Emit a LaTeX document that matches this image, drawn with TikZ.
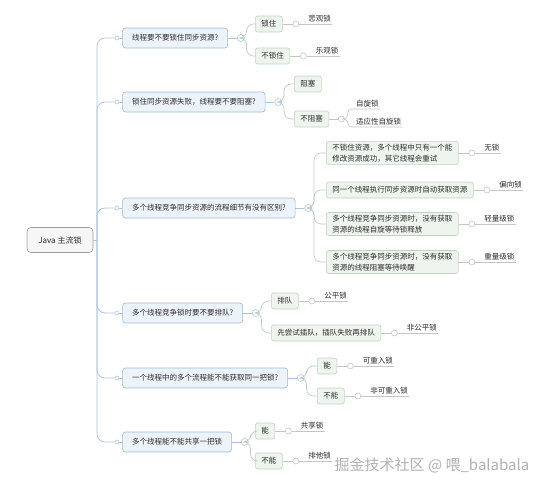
\documentclass[tikz,border=0pt]{standalone}
\usepackage{fontspec}
\newfontfamily\cjkfont{Noto Sans CJK SC}
\usetikzlibrary{positioning}
\definecolor{topicfill}{RGB}{237,243,251}
\definecolor{topicdraw}{RGB}{163,184,212}
\definecolor{subfill}{RGB}{238,245,238}
\definecolor{subdraw}{RGB}{194,210,194}
\definecolor{rootfill}{RGB}{246,246,246}
\definecolor{rootdraw}{RGB}{158,158,158}
\definecolor{trunkline}{RGB}{176,197,223}
\definecolor{subline}{RGB}{190,206,196}
\definecolor{leafline}{RGB}{198,198,198}
\definecolor{inktext}{RGB}{45,45,45}

\tikzset{
  rootbox/.style={draw=rootdraw, fill=rootfill, rounded corners=4pt, line width=0.6pt,
    minimum width=66pt, minimum height=25pt, font=\cjkfont\fontsize{8}{10}\selectfont},
  topicbox/.style={draw=topicdraw, fill=topicfill, rounded corners=3pt, line width=0.6pt,
    minimum height=20pt, inner xsep=9.5pt, inner ysep=0pt},
  subbox/.style={draw=subdraw, fill=subfill, rounded corners=2.5pt, line width=0.6pt,
    minimum height=16pt, inner xsep=6pt, inner ysep=2.5pt, align=left},
  leaf/.style={anchor=south west, inner xsep=1pt, inner ysep=1.2pt},
  knob/.style={circle, draw=#1, fill=white, line width=0.6pt, inner sep=0pt},
  knob/.default=leafline,
  trunk/.style={draw=trunkline, line width=0.8pt, rounded corners=8pt},
  twig/.style={draw=subline, line width=0.7pt, rounded corners=7pt},
  leafrule/.style={draw=leafline, line width=0.6pt},
}

\begin{document}
\begin{tikzpicture}[x=1pt, y=-1pt, text=inktext, font=\cjkfont\fontsize{7.5}{11}\selectfont]
\useasboundingbox[fill=white] (0,0) rectangle (554,487);

% root
\node[rootbox] (root) at (60,240) {Java 主流锁};
\coordinate (hub) at (97,240);

% first level
\node[knob=trunkline, minimum size=4pt] (p1) at (117,38) {};
\node[knob=trunkline, minimum size=4pt] (p2) at (117,102) {};
\node[knob=trunkline, minimum size=4pt] (p3) at (117,208) {};
\node[knob=trunkline, minimum size=4pt] (p4) at (117,313) {};
\node[knob=trunkline, minimum size=4pt] (p5) at (117,378) {};
\node[knob=trunkline, minimum size=4pt] (p6) at (117,442) {};

\node[topicbox, right=3pt of p1] (t1) {线程要不要锁住同步资源?};
\node[topicbox, right=3pt of p2] (t2) {锁住同步资源失败，线程要不要阻塞?};
\node[topicbox, right=3pt of p3] (t3) {多个线程竞争同步资源的流程细节有没有区别?};
\node[topicbox, right=3pt of p4] (t4) {多个线程竞争锁时要不要排队?};
\node[topicbox, right=3pt of p5] (t5) {一个线程中的多个流程能不能获取同一把锁?};
\node[topicbox, right=3pt of p6] (t6) {多个线程能不能共享一把锁};

\draw[trunkline, line width=0.8pt] (root.east) -- (hub);
\foreach \i in {1,...,6} {
  \draw[trunk] (hub) |- (p\i.west);
  \draw[trunkline, line width=0.6pt] (p\i.east) -- (t\i.west);
  \node[knob=trunkline, minimum size=7pt, right=9pt of t\i] (k\i) {};
  \draw[trunkline, line width=0.6pt] (t\i.east) -- (k\i.west);
}

% second level
\node[subbox, anchor=west] (s11) at (255,24) {锁住};
\node[subbox, anchor=west] (s12) at (255,56) {不锁住};
\node[subbox, anchor=west] (s21) at (294,84) {阻塞};
\node[subbox, anchor=west] (s22) at (294,119) {不阻塞};
\node[subbox, anchor=west] (s31) at (326,153) {不锁住资源，多个线程中只有一个能\\修改资源成功，其它线程会重试};
\node[subbox, anchor=west] (s32) at (326,190) {同一个线程执行同步资源时自动获取资源};
\node[subbox, anchor=west] (s33) at (326,224) {多个线程竞争同步资源时，没有获取\\资源的线程自旋等待锁释放};
\node[subbox, anchor=west] (s34) at (326,262) {多个线程竞争同步资源时，没有获取\\资源的线程阻塞等待唤醒};
\node[subbox, anchor=west] (s41) at (271,301) {排队};
\node[subbox, anchor=west] (s42) at (271,333) {先尝试插队，插队失败再排队};
\node[subbox, anchor=west] (s51) at (317,366) {能};
\node[subbox, anchor=west] (s52) at (317,396) {不能};
\node[subbox, anchor=west] (s61) at (255,431) {能};
\node[subbox, anchor=west] (s62) at (255,461) {不能};

\foreach \i/\j in {1/1,1/2,2/1,2/2,3/1,3/2,3/3,3/4,4/1,4/2,5/1,5/2,6/1,6/2}
  \draw[twig] (k\i.east) -- ++(2,0) |- (s\i\j.west);

% leaves
\foreach \i/\j/\word in {1/1/悲观锁, 1/2/乐观锁, 3/1/无锁, 3/2/偏向锁, 3/3/轻量级锁,
    3/4/重量级锁, 4/1/公平锁, 4/2/非公平锁, 5/1/可重入锁, 5/2/非可重入锁,
    6/1/共享锁, 6/2/排他锁} {
  \node[knob, minimum size=6pt, right=10pt of s\i\j] (q\i\j) {};
  \node[leaf] (l\i\j) at ([xshift=8pt]q\i\j.east) {\word};
  \draw[leafrule] (s\i\j.east) -- (q\i\j.west) (q\i\j.east) -- (l\i\j.south east);
}

% two leaves under the non-blocking box
\node[knob, minimum size=6pt, right=9pt of s22] (q22) {};
\draw[leafrule] (s22.east) -- (q22.west);
\node[leaf] (l22a) at (355,109) {自旋锁};
\node[leaf] (l22b) at (355,127) {适应性自旋锁};
\draw[leafrule, rounded corners=4pt] (q22.east) -- ++(3,0) |- (l22a.south west) -- (l22a.south east);
\draw[leafrule, rounded corners=4pt] (q22.east) -- ++(3,0) |- (l22b.south west) -- (l22b.south east);

% watermark
\node[text=gray!60, font=\cjkfont\fontsize{15}{18}\selectfont] (mark) at (432,465) {掘金技术社区 @ 喂\_balabala};
\end{tikzpicture}
\end{document}
